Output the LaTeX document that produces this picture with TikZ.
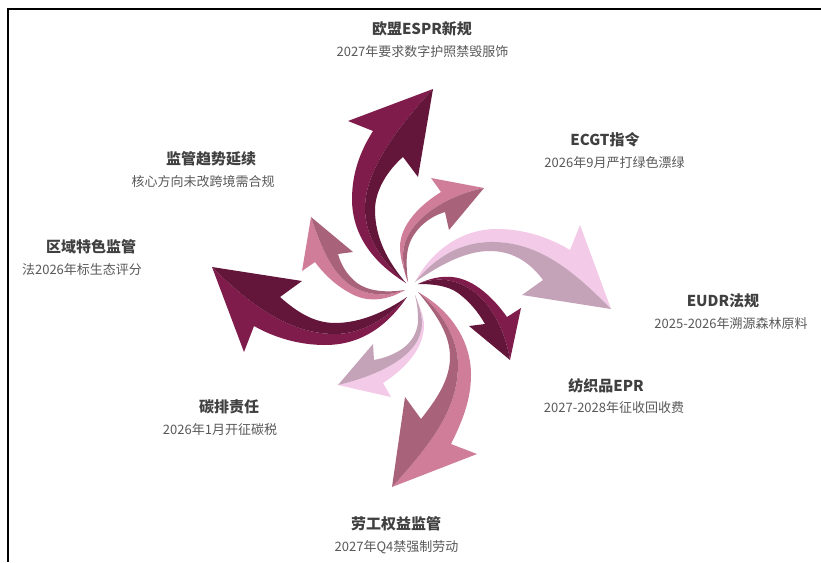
\documentclass[tikz,border=0pt]{standalone}
\usepackage{fontspec}
\setmainfont{Noto Sans CJK SC}
\definecolor{wineL}{HTML}{7F1C4B}
\definecolor{wineD}{HTML}{63153A}
\definecolor{roseL}{HTML}{CF7D99}
\definecolor{roseD}{HTML}{A8627A}
\definecolor{paleL}{HTML}{F3CAE7}
\definecolor{paleD}{HTML}{C4A3B9}
\definecolor{headc}{HTML}{404040}
\definecolor{subc}{HTML}{595959}
\tikzset{
  headtxt/.style={text=headc,font=\fontsize{15}{18}\selectfont\bfseries,inner sep=0pt},
  subtxt/.style={text=subc,font=\fontsize{13}{16}\selectfont,inner sep=0pt},
  frameln/.style={draw=black,line width=2.3pt,line cap=butt},
}
\begin{document}
\begin{tikzpicture}[x=1pt,y=-1pt]
\useasboundingbox (0,0) rectangle (821,562);
\fill[white] (0,0) rectangle (821,562);
\coordinate (fa) at (7.7,562);
\coordinate (fb) at (7.7,8.8);
\coordinate (fc) at (821,8.8);
\draw[frameln] (fa) -- (fb) -- (fc);

% Arrow 1: big dark, north
\fill[wineL] (406,283) .. controls (372,262) and (352,234) .. (352,199) .. controls (352,172) and (361,150) .. (373,131) -- (348,121) -- (433,89)
  .. controls (395,130) and (365,172) .. (365,208) .. controls (365,240) and (385,264) .. (406,283) -- cycle;
\fill[wineD] (406,283) .. controls (388,262) and (375,238) .. (375,210) .. controls (375,190) and (388,170) .. (403,157) -- (418,177) -- (433,89)
  .. controls (395,130) and (365,172) .. (365,208) .. controls (365,240) and (385,264) .. (406,283) -- cycle;

% Arrow 2: small rose, north-west
\fill[roseL] (405,290) .. controls (385,302) and (365,302) .. (350,293) .. controls (335,285) and (323,273) .. (315,262) -- (302,271) -- (311,217)
  .. controls (322,250) and (332,272) .. (350,285) .. controls (368,297) and (390,296) .. (405,290) -- cycle;
\fill[roseD] (405,290) .. controls (385,293) and (368,291) .. (357,283) .. controls (347,275) and (341,265) .. (338,254) -- (353,252) -- (311,217)
  .. controls (322,250) and (332,272) .. (350,285) .. controls (368,297) and (390,296) .. (405,290) -- cycle;

% Arrow 3: small rose, north-east
\fill[roseL] (408,282) .. controls (402,265) and (400,255) .. (400,247) .. controls (400,225) and (420,205) .. (441,192) -- (431,178) -- (484,188)
  .. controls (440,197) and (403,225) .. (403,255) .. controls (403,265) and (405,275) .. (408,282) -- cycle;
\fill[roseD] (408,282) .. controls (406,265) and (406,255) .. (409,245) .. controls (414,230) and (428,217) .. (445,212) -- (449,230) -- (484,188)
  .. controls (440,197) and (403,225) .. (403,255) .. controls (403,265) and (405,275) .. (408,282) -- cycle;

% Arrow 4: big pale, east
\fill[paleL] (415,282) .. controls (432,250) and (462,229) .. (497,229) .. controls (525,229) and (550,238) .. (570,250) -- (580,225) -- (611,309)
  .. controls (575,272) and (540,243) .. (495,242) .. controls (460,241) and (435,258) .. (415,282) -- cycle;
\fill[paleD] (415,282) .. controls (440,265) and (465,251) .. (490,251) .. controls (515,251) and (532,265) .. (543,280) -- (522,295) -- (611,309)
  .. controls (575,272) and (540,243) .. (495,242) .. controls (460,241) and (435,258) .. (415,282) -- cycle;

% Arrow 5: small dark, south-east
\fill[wineL] (418,284) .. controls (430,278) and (442,276) .. (452,277) .. controls (475,279) and (495,300) .. (507,317) -- (521,308) -- (510,360)
  .. controls (505,330) and (490,298) .. (463,285) .. controls (448,278) and (432,278) .. (418,284) -- cycle;
\fill[wineD] (418,284) .. controls (435,284) and (448,286) .. (458,293) .. controls (470,302) and (478,312) .. (485,324) -- (469,326) -- (510,360)
  .. controls (505,330) and (490,298) .. (463,285) .. controls (448,278) and (432,278) .. (418,284) -- cycle;

% Arrow 6: big rose, south
\fill[roseL] (418,292) .. controls (450,310) and (471,340) .. (471,375) .. controls (471,400) and (462,422) .. (451,444) -- (477,454) -- (392,487)
  .. controls (430,445) and (458,410) .. (458,365) .. controls (458,340) and (443,312) .. (418,292) -- cycle;
\fill[roseD] (418,292) .. controls (437,315) and (450,335) .. (450,357) .. controls (450,380) and (436,400) .. (421,419) -- (405,397) -- (392,487)
  .. controls (430,445) and (458,410) .. (458,365) .. controls (458,340) and (443,312) .. (418,292) -- cycle;

% Arrow 7: small pale, south-west
\fill[paleL] (415,295) .. controls (421,310) and (424,318) .. (424,325) .. controls (424,350) and (403,370) .. (383,383) -- (391,397) -- (338,385)
  .. controls (380,375) and (422,355) .. (422,323) .. controls (422,315) and (419,305) .. (415,295) -- cycle;
\fill[paleD] (415,295) .. controls (418,307) and (418,315) .. (418,322) .. controls (416,345) and (395,356) .. (374,360) -- (373,344) -- (338,385)
  .. controls (380,375) and (422,355) .. (422,323) .. controls (422,315) and (419,305) .. (415,295) -- cycle;

% Arrow 8: big dark, west
\fill[wineL] (407,297) .. controls (388,325) and (362,345) .. (325,345) .. controls (300,345) and (275,338) .. (254,326) -- (244,352) -- (212,267)
  .. controls (250,305) and (290,334) .. (335,334) .. controls (365,334) and (390,315) .. (407,297) -- cycle;
\fill[wineD] (407,297) .. controls (385,312) and (360,323) .. (335,323) .. controls (315,323) and (298,313) .. (280,297) -- (302,281) -- (212,267)
  .. controls (250,305) and (290,334) .. (335,334) .. controls (365,334) and (390,315) .. (407,297) -- cycle;

% Labels
\node[headtxt] (h1) at (422,29) {欧盟ESPR新规};
\node[subtxt] (s1) at (422.5,52) {2027年要求数字护照禁毁服饰};
\node[headtxt] (h2) at (605,140) {ECGT指令};
\node[subtxt] (s2) at (614.5,163) {2026年9月严打绿色漂绿};
\node[headtxt] (h3) at (723,301) {EUDR法规};
\node[subtxt] (s3) at (731,324) {2025-2026年溯源森林原料};
\node[headtxt] (h4) at (606,386) {纺织品EPR};
\node[subtxt] (s4) at (614,408) {2027-2028年征收回收费};
\node[headtxt] (h5) at (396,524) {劳工权益监管};
\node[subtxt] (s5) at (396.5,547) {2027年Q4禁强制劳动};
\node[headtxt] (h6) at (229,407) {碳排责任};
\node[subtxt] (s6) at (220,430) {2026年1月开征碳税};
\node[headtxt] (h7) at (91,247) {区域特色监管};
\node[subtxt] (s7) at (82,270) {法2026年标生态评分};
\node[headtxt] (h8) at (211,159) {监管趋势延续};
\node[subtxt] (s8) at (203,182) {核心方向未改跨境需合规};
\end{tikzpicture}
\end{document}
